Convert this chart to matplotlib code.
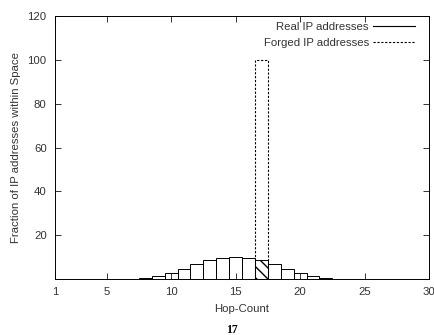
import numpy as np
import matplotlib
matplotlib.use("Agg")
import matplotlib.pyplot as plt

plt.rcParams['font.family'] = ['Liberation Sans', 'DejaVu Sans']

# Hop-count histogram of real IP addresses (percent per hop count)
hops = [8, 9, 10, 11, 12, 13, 14, 15, 16, 17, 18, 19, 20, 21, 22]
real_pct = [0.3, 1.2, 2.6, 4.4, 6.8, 8.5, 9.4, 10.0, 9.4, 8.5, 6.8, 4.4, 2.6, 1.2, 0.3]

# Forged addresses all share one hop count
forged_hops = [17]
forged_pct = [100]

x_ticks = [1, 5, 10, 15, 20, 25, 30]
y_ticks = [20, 40, 60, 80, 100, 120]

fs = 8.2
txt = '#333333'

fig = plt.figure(figsize=(4.34, 3.35), dpi=100)
ax = fig.add_axes([0.1267, 0.167, 0.862, 0.785])

# real addresses: outlined bars, the one overlapping the forged bar hatched
for h, v in zip(hops, real_pct):
    ax.bar(h, v, width=1.0, fill=False, edgecolor='black', linewidth=0.7,
           hatch='\\\\\\' if h in forged_hops else None)
ax.plot([], [], color='black', linewidth=0.8, label='Real IP addresses')

ax.bar(forged_hops, forged_pct, width=1.0, fill=False, edgecolor='black',
       linewidth=0.8, linestyle=(0, (2, 1.5)))
ax.plot([], [], color='black', linewidth=0.8, linestyle=(0, (2, 1.5)),
        label='Forged IP addresses')

ax.set_xlim(1, 30)
ax.set_ylim(0, 120)
ax.set_xticks(x_ticks)
ax.set_yticks(y_ticks)
ax.tick_params(direction='in', length=4, width=0.7, top=True, right=True,
               labelsize=fs, colors=txt, pad=6)
for s in ax.spines.values():
    s.set_linewidth(0.7)

ax.set_xlabel('Hop-Count', fontsize=fs, color=txt, labelpad=5)
ax.set_ylabel('Fraction of IP addresses within Space', fontsize=fs,
              color=txt, labelpad=5)

leg = ax.legend(loc='upper right', bbox_to_anchor=(0.962, 0.976),
                frameon=False, markerfirst=False,
                fontsize=fs, handlelength=3.7, borderaxespad=0.0,
                borderpad=0.0, labelspacing=0.45, handletextpad=0.35)
for t in leg.get_texts():
    t.set_color(txt)
    t.set_ha('right')

fig.text(0.535, 0.016, '17', fontsize=8.5, fontweight='bold',
         family=['Liberation Serif', 'DejaVu Serif'], ha='center', va='center')

fig.savefig('out.png', dpi=100)
